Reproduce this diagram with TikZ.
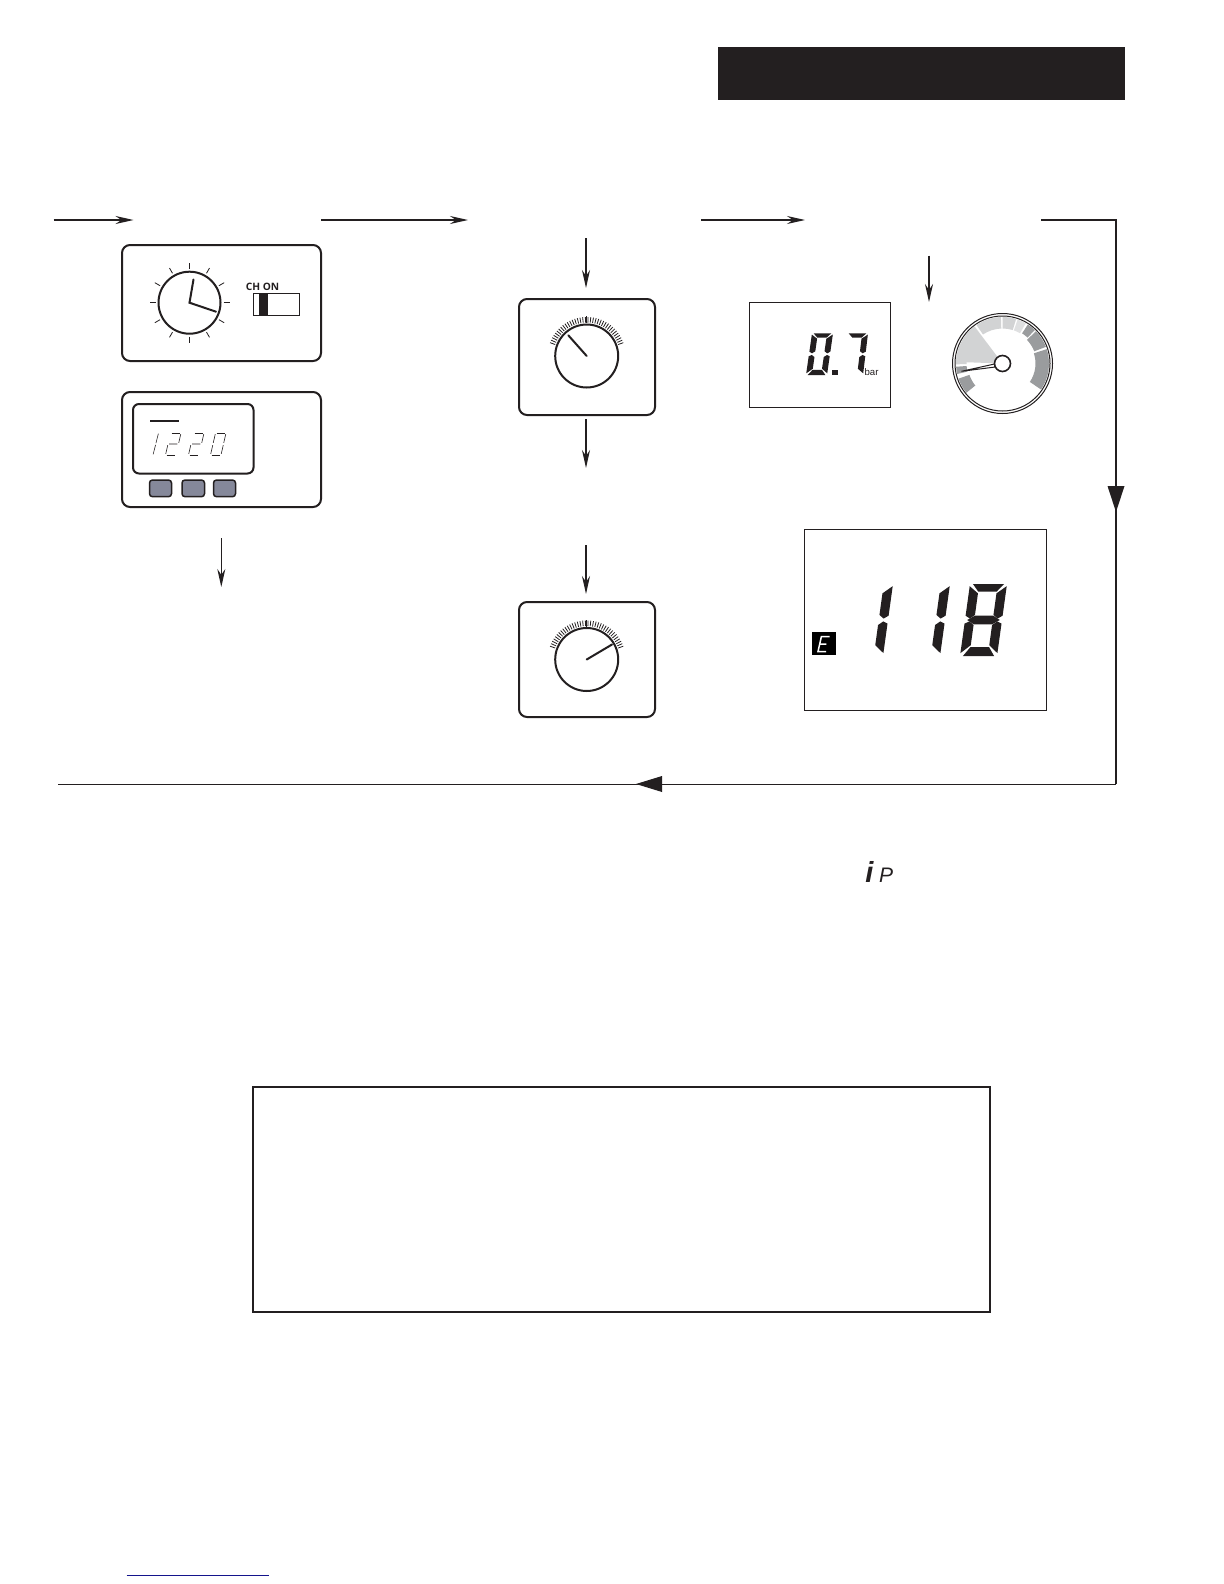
\documentclass[tikz,border=0pt]{standalone}
\usepackage{fontspec}
\setmainfont{Liberation Sans}
\newfontfamily\lblfont{Open Sans}
\usetikzlibrary{arrows.meta}
\definecolor{inkk}{HTML}{231F20}
\definecolor{btn}{HTML}{85889A}
\definecolor{glight}{HTML}{D2D3D4}
\definecolor{gmid}{HTML}{9A9C9E}
\definecolor{navyline}{HTML}{14148C}
\tikzset{
  flow/.style={draw=inkk,line width=0.75pt,-{Stealth[length=9pt,width=4pt]}},
  loopline/.style={draw=inkk,line width=0.5pt},
  bighead/.style={fill=inkk,draw=none},
  panel/.style={draw=inkk,line width=1pt,rounded corners=4pt,fill=white},
  screen/.style={draw=inkk,line width=0.5pt,fill=white},
  knobc/.style={draw=inkk,line width=1pt,fill=white},
  needle/.style={draw=inkk,line width=1pt,line cap=round},
  fine/.style={draw=inkk,line width=0.4pt},
  keycap/.style={draw=inkk,line width=0.75pt,fill=btn,rounded corners=1.5pt},
  hair/.style={draw=inkk,line width=0.3pt},
}
% segments: x0 y0 w h slant; \st = relative stroke, \sm = half stroke, \sr = 1-\st, \sq = 1-\sm
\newcommand{\digitscope}[5]{\begin{scope}[shift={(#1,#2)},x={(#3*0.5pt,0pt)},y={(#5*0.5pt,#4*0.5pt)}]}
\newcommand{\sega}{\fill[inkk] (0.08,1)--(0.92,1)--(\sr,0.895)--(\st,0.895)--cycle;}
\newcommand{\segb}{\fill[inkk] (1,0.97)--(1,0.56)--(\sq,0.52)--(\sr,0.57)--(\sr,0.87)--cycle;}
\newcommand{\segc}{\fill[inkk] (1,0.45)--(1,0.04)--(\sr,0.15)--(\sr,0.43)--(\sq,0.48)--cycle;}
\newcommand{\segd}{\fill[inkk] (0.08,0)--(0.92,0)--(\sr,0.125)--(\st,0.125)--cycle;}
\newcommand{\sege}{\fill[inkk] (0,0.45)--(0,0.04)--(\st,0.15)--(\st,0.43)--(\sm,0.48)--cycle;}
\newcommand{\segf}{\fill[inkk] (0,0.97)--(0,0.56)--(\sm,0.52)--(\st,0.57)--(\st,0.87)--cycle;}
\newcommand{\segg}{\fill[inkk] (0.06,0.5)--(\st,0.56)--(\sr,0.56)--(0.94,0.5)--(\sr,0.44)--(\st,0.44)--cycle;}
\newcommand{\gaugeseg}[5]{\fill[#5] (#1:#3) arc[start angle=#1,end angle=#2,radius=#3] -- (#2:#4) arc[start angle=#2,end angle=#1,radius=#4] -- cycle;}
\newcommand{\knobticks}{%
  \foreach \t in {20,24,...,160}{\draw[fine] (\t:33.5) -- (\t:39);}
  \draw[inkk,line width=0.7pt] (90:33) -- (90:40);}
\begin{document}
\begin{tikzpicture}[x=0.5pt,y=-0.5pt]
\useasboundingbox (0,0) rectangle (1224,1584);
\fill[white] (0,0) rectangle (1224,1584);
% header
\fill[inkk] (718,47) rectangle (1125,100);
% coordinates of the flow
\coordinate (a1s) at (53.5,220); \coordinate (a1e) at (133.5,220);
\coordinate (a2s) at (321,220); \coordinate (a2e) at (468,220);
\coordinate (a3s) at (701,220); \coordinate (a3e) at (805,220);
\coordinate (ls) at (1041,220); \coordinate (lc1) at (1116,220);
\coordinate (lc2) at (1116,784); \coordinate (le) at (57.5,784);
\coordinate (v1s) at (586,238); \coordinate (v1e) at (586,288);
\coordinate (v2s) at (586,419); \coordinate (v2e) at (586,468);
\coordinate (v3s) at (586,545); \coordinate (v3e) at (586,594);
\coordinate (v4s) at (929,255.5); \coordinate (v4e) at (929,302);
\coordinate (v5s) at (221.3,538); \coordinate (v5e) at (221.3,587);
\foreach \p/\q in {a1s/a1e,a2s/a2e,a3s/a3e,v1s/v1e,v2s/v2e,v3s/v3e,v4s/v4e,v5s/v5e}
  \draw[flow] (\p) -- (\q);
\draw[draw=inkk,line width=0.8pt] (ls) -- (lc1) -- (lc2);
\draw[loopline] (lc2) -- (le);
\fill[bighead] (1107.5,486) -- (1124.5,486) -- (1116,512) -- cycle;
\fill[bighead] (662,776) -- (662,792) -- (636,784) -- cycle;
% clock panel
\draw[panel] (122,245) rectangle (321,361);
\begin{scope}[shift={(189.5,302.7)},y=0.5pt]
  \foreach \t in {0,30,...,330}{\draw[fine,line width=0.4pt] (\t:34) -- (\t:40);}
  \draw[knobc,fill=none] (0,0) circle[radius=31];
\end{scope}
\coordinate (clk) at (189.5,302.7);
\coordinate (hand1) at (193.5,279.5);
\coordinate (hand2) at (216,311.7);
\draw[needle] (hand1) -- (clk) -- (hand2);
\node[inner sep=0pt,text=inkk,font=\lblfont\bfseries\fontsize{5.1}{6}\selectfont] (chon) at (262.5,286.7) {CH ON};
\draw[inkk,line width=0.5pt,fill=white] (253.5,293.5) rectangle (299.5,315.5);
\fill[inkk] (259,293.5) rectangle (268,315.5);
% programmer panel
\draw[panel] (122,392) rectangle (321,507);
\draw[panel,rounded corners=3pt] (133,404) rectangle (253.5,473.5);
\draw[inkk,line width=0.8pt] (150,420.7) -- (179,420.7);
\draw[keycap] (149.5,480) rectangle (171.5,496.7);
\draw[keycap] (182,480) rectangle (204.5,496.7);
\draw[keycap] (213.5,480) rectangle (235.5,496.7);
% thin digits 1220
\digitscope{153}{455}{1}{22}{5.5}
  \draw[hair] (0,0.03)--(0,0.46) (0,0.54)--(0,0.97);
\end{scope}
\foreach \x/\kind in {165.5/2,188.5/2,210.5/0}{
 \digitscope{\x}{455}{10.5}{22}{5}
  \draw[hair] (0.1,1)--(0.9,1) (0.1,0)--(0.9,0);
  \ifnum\kind=2
   \draw[hair] (1,0.95)--(1,0.55) (0.1,0.5)--(0.9,0.5) (0,0.45)--(0,0.05);
  \else
   \draw[hair] (1,0.95)--(1,0.55) (1,0.45)--(1,0.05) (0,0.95)--(0,0.55) (0,0.45)--(0,0.05);
  \fi
 \end{scope}}
% knob 1
\draw[panel] (519,299) rectangle (655,415);
\begin{scope}[shift={(586.7,356)},y=0.5pt]
  \knobticks
  \draw[knobc] (0,0) circle[radius=31.5];
\end{scope}
\coordinate (k1) at (586.7,356); \coordinate (k1n) at (568.3,335.3);
\draw[needle] (k1) -- (k1n);
% knob 2
\draw[panel] (519,602) rectangle (655,717);
\begin{scope}[shift={(586.7,659.5)},y=0.5pt]
  \knobticks
  \draw[knobc] (0,0) circle[radius=31.5];
\end{scope}
\coordinate (k2) at (586.7,659.5); \coordinate (k2n) at (612,644.5);
\draw[needle] (k2) -- (k2n);
% 0.7 bar display
\draw[screen] (749.5,302.5) rectangle (890.5,407);
\def\st{0.28}\def\sm{0.14}\def\sr{0.72}\def\sq{0.86}
\digitscope{806}{375}{21}{41.7}{6}
  \sega\segb\segc\segd\sege\segf
\end{scope}
\fill[inkk] (832,370) rectangle (837.5,375);
\digitscope{842}{375}{21}{41.7}{5}
  \sega\segb\segc
\end{scope}
\node[inner sep=0pt,text=inkk,font=\fontsize{4.8}{6}\selectfont] (barlbl) at (871.5,372) {bar};
% gauge
\begin{scope}[shift={(1002.5,363.5)},y=0.5pt]
  \draw[inkk,line width=0.5pt] (0,0) circle[radius=50];
  \draw[inkk,line width=0.5pt] (0,0) circle[radius=47.5];
  \fill[glight] (0,0) -- (127:46.5) arc[start angle=127,end angle=178,radius=46.5] -- cycle;
  \gaugeseg{124}{92}{46.5}{35}{glight}
  \gaugeseg{90}{73}{46.5}{35}{glight}
  \gaugeseg{71}{60}{46.5}{35}{glight!70}
  \gaugeseg{57}{46}{46.5}{36}{gmid}
  \gaugeseg{44}{21}{46.5}{34}{gmid}
  \gaugeseg{18}{-34}{46.5}{33}{gmid}
  \gaugeseg{181}{172}{46.5}{36}{glight}
  \gaugeseg{193}{184}{46.5}{36}{gmid}
  \gaugeseg{219}{199}{46.5}{35}{gmid}
  \draw[inkk,line width=0.5pt,fill=white] (-8,-0.5) -- (-41,-7.8) -- (-8,-3.6) -- cycle;
  \draw[inkk,line width=0.8pt,fill=white] (0,0) circle[radius=8];
\end{scope}
% big display
\draw[screen] (804,529) rectangle (1046,710);
\fill[black] (812.3,632.3) rectangle (835.7,655);
\digitscope{818}{651.5}{9}{15}{2.5}
  \draw[white,line width=0.75pt] (1,1)--(0.1,1)--(0,0)--(0.9,0) (0.05,0.5)--(0.8,0.5);
\end{scope}
\def\st{0.25}\def\sm{0.125}\def\sr{0.75}\def\sq{0.875}
\digitscope{846}{656}{37}{72}{10}
  \segb\segc
\end{scope}
\digitscope{903}{656}{37}{72}{10}
  \segb\segc
\end{scope}
\digitscope{960}{656}{37}{72}{10}
  \sega\segb\segc\segd\sege\segf\segg
\end{scope}
% i P
\node[inner sep=0pt,anchor=base,text=inkk,font=\bfseries\itshape\fontsize{14.5}{16}\selectfont] (ilbl) at (869.5,882) {i};
\node[inner sep=0pt,anchor=base,text=inkk,font=\itshape\fontsize{10.5}{12}\selectfont] (plbl) at (886,882) {P};
% note box
\draw[inkk,line width=1pt,fill=white] (252.5,1087) rectangle (990,1312);
% footer rule
\coordinate (fl) at (126.7,1575.3); \coordinate (fr) at (269.3,1575.3);
\draw[navyline,line width=0.6pt] (fl) -- (fr);
\end{tikzpicture}
\end{document}
